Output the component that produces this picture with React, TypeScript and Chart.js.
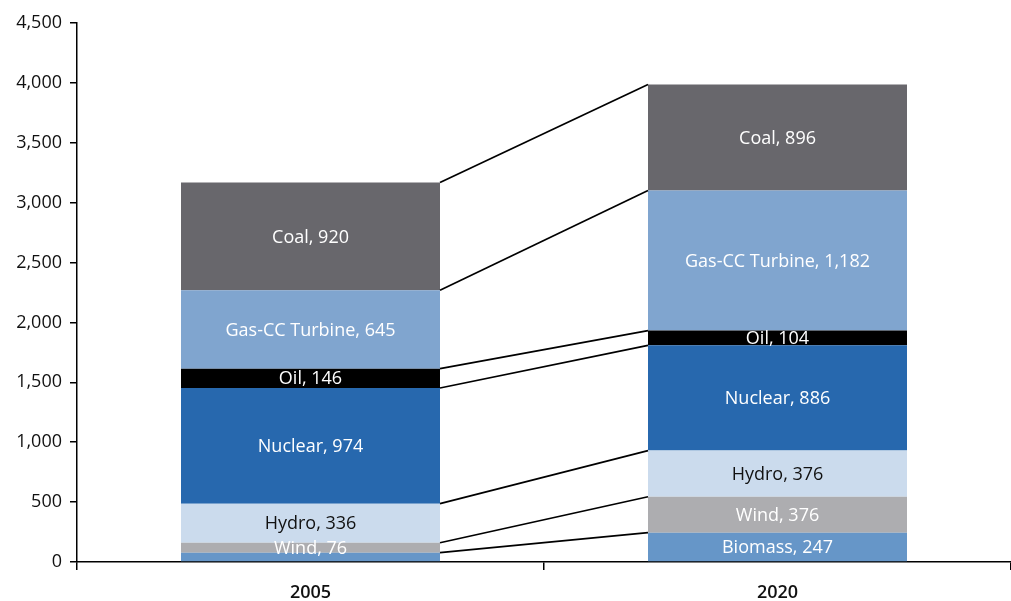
import React, { useEffect, useRef } from "react";
import { Chart, registerables } from "chart.js";

Chart.register(...registerables);

// ---- data ----
const categories = ["2005", "2020"];
const seriesNames = ["Biomass", "Wind", "Hydro", "Nuclear", "Oil", "Gas-CC Turbine", "Coal"];

// segment heights as drawn
const biomass = [78, 245];
const wind = [83, 300];
const hydro = [326, 385];
const nuclear = [966, 879];
const oil = [161, 123];
const gas = [654, 1169];
const coal = [900, 886];

// printed values in the segment labels
const biomassLabels = [null, "247"];
const windLabels = ["76", "376"];
const hydroLabels = ["336", "376"];
const nuclearLabels = ["974", "886"];
const oilLabels = ["146", "104"];
const gasLabels = ["645", "1,182"];
const coalLabels = ["920", "896"];

const yMin = 0;
const yMax = 4500;
const yStep = 500;

const colors = ["#6696c8", "#adadb0", "#cbdbed", "#2768ae", "#000000", "#80a5cf", "#68676c"];
const labelColors = ["#ffffff", "#ffffff", "#111111", "#ffffff", "#ffffff", "#ffffff", "#ffffff"];

const FONT = "'Open Sans', 'Noto Sans', sans-serif";

const seriesValues = [biomass, wind, hydro, nuclear, oil, gas, coal];
const seriesLabels = [biomassLabels, windLabels, hydroLabels, nuclearLabels, oilLabels, gasLabels, coalLabels];

const overlayPlugin = {
  id: "overlay",
  afterDatasetsDraw(chart: any) {
    const ctx = chart.ctx;
    ctx.save();
    // connector lines between stacks
    ctx.strokeStyle = "#000";
    ctx.lineWidth = 1.7;
    chart.data.datasets.forEach((_ds: any, i: number) => {
      const meta = chart.getDatasetMeta(i);
      const a = meta.data[0] as any;
      const b = meta.data[1] as any;
      if (!a || !b) return;
      ctx.beginPath();
      ctx.moveTo(a.x + a.width / 2, a.y);
      ctx.lineTo(b.x - b.width / 2, b.y);
      ctx.stroke();
    });
    // segment labels
    ctx.font = `18px ${FONT}`;
    ctx.textAlign = "center";
    ctx.textBaseline = "middle";
    chart.data.datasets.forEach((_ds: any, i: number) => {
      const meta = chart.getDatasetMeta(i);
      meta.data.forEach((el: any, j: number) => {
        const lab = seriesLabels[i][j];
        if (lab == null) return;
        const yc = (el.y + el.base) / 2;
        ctx.fillStyle = labelColors[i];
        ctx.fillText(`${seriesNames[i]}, ${lab}`, el.x, yc + 1);
      });
    });
    ctx.restore();
  },
};

export default function App() {
  const ref = useRef<HTMLCanvasElement | null>(null);
  useEffect(() => {
    if (!ref.current) return;
    const chart = new Chart(ref.current, {
      type: "bar",
      data: {
        labels: categories,
        datasets: seriesNames.map((name, i) => ({
          label: name,
          data: seriesValues[i],
          backgroundColor: colors[i],
          borderWidth: 0,
          categoryPercentage: 0.5546,
          barPercentage: 1,
        })),
      },
      options: {
        animation: false,
        responsive: true,
        maintainAspectRatio: false,
        layout: { padding: { top: 23, left: 0, right: 0, bottom: 0 } },
        plugins: {
          legend: { display: false },
          tooltip: { enabled: false },
          title: { display: false },
        },
        scales: {
          x: {
            stacked: true,
            offset: true,
            afterFit: (s: any) => {
              s.height = 39;
            },
            border: { display: true, color: "#000", width: 1.5 },
            grid: {
              display: true,
              offset: true,
              drawOnChartArea: false,
              drawTicks: true,
              tickLength: 8,
              color: "#000",
              lineWidth: 1.5,
            },
            ticks: {
              color: "#111",
              font: { family: FONT, size: 18, weight: "600" as any },
              padding: 12,
            },
          },
          y: {
            stacked: true,
            min: yMin,
            max: yMax,
            afterFit: (s: any) => {
              s.width = 77;
            },
            border: { display: true, color: "#000", width: 1.5 },
            grid: {
              display: true,
              drawOnChartArea: false,
              drawTicks: true,
              tickLength: 7,
              color: "#000",
              lineWidth: 1.5,
            },
            ticks: {
              stepSize: yStep,
              color: "#111",
              font: { family: FONT, size: 18, weight: "500" as any },
              padding: 8,
            },
          },
        },
      },
      plugins: [overlayPlugin],
    });
    return () => chart.destroy();
  }, []);
  return (
    <div style={{ position: "fixed", left: 0, top: 0, width: 1011, height: 601, background: "#fff" }}>
      <canvas ref={ref} />
    </div>
  );
}
